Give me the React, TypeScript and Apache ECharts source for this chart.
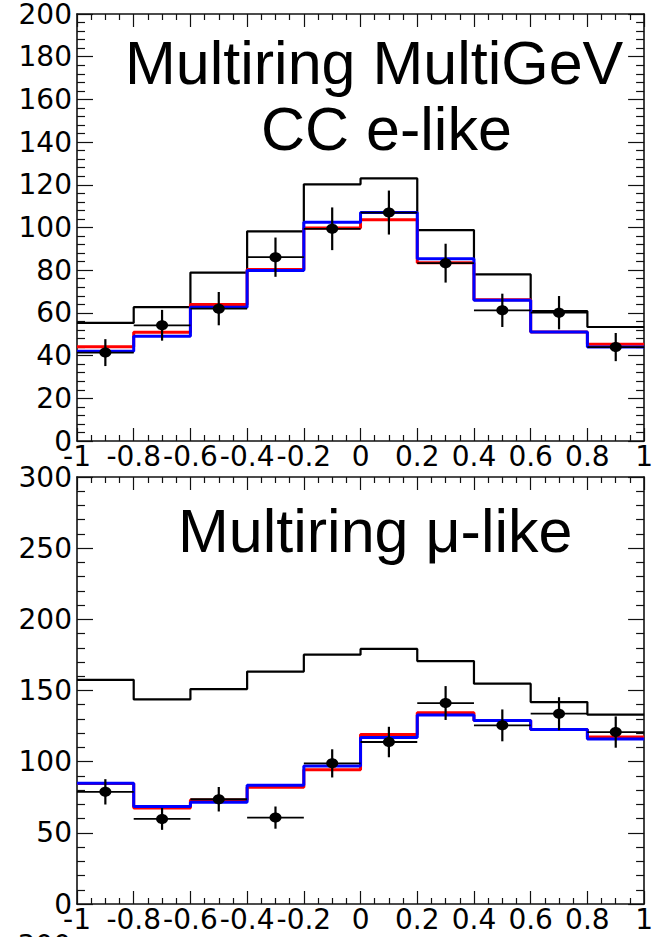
import React, { useEffect, useRef } from "react";
import * as echarts from "echarts";

// Bin edges of cos(zenith)
const BIN_EDGES = [-1, -0.8, -0.6, -0.4, -0.2, 0, 0.2, 0.4, 0.6, 0.8, 1];

// Panel 1: Multiring MultiGeV CC e-like
const TOP_NO_OSC = [55.3, 62.7, 78.9, 98.2, 120.2, 123, 98.8, 78, 60.8, 53.4];
const TOP_RED = [44.1, 50.9, 63.9, 80.3, 99.8, 103.6, 83.5, 66.2, 51, 45.3];
const TOP_BLUE = [42, 49.1, 62.6, 79.9, 102.5, 107, 85.4, 65.9, 51, 44];
const TOP_DATA = [41.4, 54.2, 62, 86.1, 99.4, 107, 83.3, 61.2, 60.1, 44];
const TOP_ERR = [6.3, 7.2, 7.8, 9.2, 10, 10.3, 9.1, 7.8, 7.8, 6.6];

// Panel 2: Multiring mu-like
const BOT_NO_OSC = [157.5, 143.7, 151, 163.3, 175.2, 179.2, 170.7, 154.8, 141.9, 133];
const BOT_RED = [84.6, 67.5, 73.1, 82, 94.3, 119, 134.4, 129, 122.6, 117.4];
const BOT_BLUE = [84.8, 68.5, 71.4, 83.4, 97, 116.9, 132.8, 129, 122.6, 115.9];
const BOT_DATA = [78.8, 59.8, 73.6, 60.7, 98.8, 113.8, 141.2, 125.5, 133.7, 120.8];
const BOT_ERR = [8.9, 7.7, 8.6, 7.8, 9.9, 10.7, 11.9, 11.2, 11.6, 11];

const TITLES_TOP = ["Multiring MultiGeV", "CC e-like"];
const TITLE_BOT = "Multiring μ-like";
const NEXT_PANEL_LABEL = "300";

const TICK_FONT = "DejaVu Sans";
const TITLE_FONT = "Liberation Sans";

function histData(vals: number[]) {
  return BIN_EDGES.map((x, i) => [x, vals[Math.min(i, vals.length - 1)]]);
}

function pointData(vals: number[], errs: number[]) {
  return vals.map((v, i) => {
    const lo = BIN_EDGES[i];
    const hi = BIN_EDGES[i + 1];
    return [(lo + hi) / 2, v, errs[i], lo, hi];
  });
}

function renderPoint(params: any, api: any) {
  const x = api.value(0);
  const y = api.value(1);
  const e = api.value(2);
  const lo = api.value(3);
  const hi = api.value(4);
  const p = api.coord([x, y]);
  const pl = api.coord([lo, y]);
  const ph = api.coord([hi, y]);
  const pt = api.coord([x, y + e]);
  const pb = api.coord([x, y - e]);
  return {
    type: "group",
    children: [
      {
        type: "line",
        shape: { x1: pl[0], y1: p[1], x2: ph[0], y2: p[1] },
        style: { stroke: "#000", lineWidth: 1.8 },
      },
      {
        type: "line",
        shape: { x1: p[0], y1: pt[1], x2: p[0], y2: pb[1] },
        style: { stroke: "#000", lineWidth: 2.2 },
      },
      {
        type: "ellipse",
        shape: { cx: p[0], cy: p[1], rx: 6, ry: 5 },
        style: { fill: "#000" },
      },
    ],
  };
}

function xAxes(gridIndex: number) {
  const common = {
    type: "value",
    gridIndex,
    min: -1,
    max: 1,
    interval: 0.2,
    axisLine: { show: true, onZero: false, lineStyle: { color: "#111", width: 1.6 } },
    axisTick: { show: true, inside: true, length: 13, lineStyle: { color: "#111", width: 1.2 } },
    minorTick: { show: true, splitNumber: 4, length: 6, lineStyle: { color: "#111", width: 1.2 } },
    splitLine: { show: false },
    minorSplitLine: { show: false },
  };
  return [
    {
      ...common,
      position: "bottom",
      axisLabel: {
        show: true,
        color: "#000",
        fontFamily: TICK_FONT,
        fontSize: 28,
        margin: 1,
        formatter: (v: number) => String(Math.round(v * 10) / 10),
      },
    },
    {
      ...common,
      position: "top",
      axisLabel: { show: false },
    },
  ];
}

function yAxes(gridIndex: number, max: number, interval: number, minorSplit: number) {
  const common = {
    type: "value",
    gridIndex,
    min: 0,
    max,
    interval,
    axisLine: { show: true, onZero: false, lineStyle: { color: "#111", width: 1.6 } },
    axisTick: { show: true, inside: true, length: 16, lineStyle: { color: "#111", width: 1.2 } },
    minorTick: { show: true, splitNumber: minorSplit, length: 8, lineStyle: { color: "#111", width: 1.2 } },
    splitLine: { show: false },
    minorSplitLine: { show: false },
  };
  return [
    {
      ...common,
      position: "left",
      axisLabel: {
        show: true,
        color: "#000",
        fontFamily: TICK_FONT,
        fontSize: 28,
        margin: 5,
        lineHeight: 22,
        padding: [5, 0, 0, 0],
      },
    },
    { ...common, position: "right", axisLabel: { show: false } },
  ];
}

function histSeries(vals: number[], color: string, width: number, xi: number, yi: number, z: number) {
  return {
    type: "line",
    data: histData(vals),
    step: "end",
    xAxisIndex: xi,
    yAxisIndex: yi,
    showSymbol: false,
    symbol: "none",
    lineStyle: { color, width },
    itemStyle: { color },
    z,
    silent: true,
  };
}

function pointSeries(vals: number[], errs: number[], xi: number, yi: number) {
  return {
    type: "custom",
    xAxisIndex: xi,
    yAxisIndex: yi,
    data: pointData(vals, errs),
    encode: { x: 0, y: 1 },
    renderItem: renderPoint,
    z: 10,
    silent: true,
  };
}

export default function App() {
  const ref = useRef<HTMLDivElement>(null);

  useEffect(() => {
    if (!ref.current) return;
    const chart = echarts.init(ref.current, null, { renderer: "svg" });
    const option: any = {
      animation: false,
      backgroundColor: "#fff",
      grid: [
        { left: 77, top: 13, width: 572, height: 428, containLabel: false },
        { left: 77, top: 477, width: 572, height: 427, containLabel: false },
      ],
      xAxis: [...xAxes(0), ...xAxes(1)],
      yAxis: [...yAxes(0, 200, 20, 5), ...yAxes(1, 300, 50, 5)],
      series: [
        histSeries(TOP_NO_OSC, "#000", 2.2, 0, 0, 2),
        histSeries(TOP_RED, "#ff0000", 3, 0, 0, 3),
        histSeries(TOP_BLUE, "#0000ff", 3, 0, 0, 4),
        pointSeries(TOP_DATA, TOP_ERR, 0, 0),
        histSeries(BOT_NO_OSC, "#000", 2.2, 2, 2, 2),
        histSeries(BOT_RED, "#ff0000", 3, 2, 2, 3),
        histSeries(BOT_BLUE, "#0000ff", 3, 2, 2, 4),
        pointSeries(BOT_DATA, BOT_ERR, 2, 2),
      ],
      graphic: [
        {
          type: "text",
          left: 125,
          top: 32,
          style: {
            text: TITLES_TOP[0],
            fontFamily: TITLE_FONT,
            fontSize: 61,
            fill: "#000",
          },
        },
        {
          type: "text",
          left: 261,
          top: 98,
          style: {
            text: TITLES_TOP[1],
            fontFamily: TITLE_FONT,
            fontSize: 61,
            fill: "#000",
          },
        },
        {
          type: "text",
          left: 178,
          top: 500,
          style: {
            text: TITLE_BOT,
            fontFamily: TITLE_FONT,
            fontSize: 61,
            fill: "#000",
          },
        },
        {
          type: "text",
          right: 585,
          top: 931,
          style: {
            text: NEXT_PANEL_LABEL,
            fontFamily: TICK_FONT,
            fontSize: 28,
            fill: "#000",
          },
        },
      ],
    };
    chart.setOption(option);
    return () => chart.dispose();
  }, []);

  return (
    <div
      ref={ref}
      style={{ position: "absolute", left: 0, top: 0, width: 656, height: 937, background: "#fff" }}
    />
  );
}
